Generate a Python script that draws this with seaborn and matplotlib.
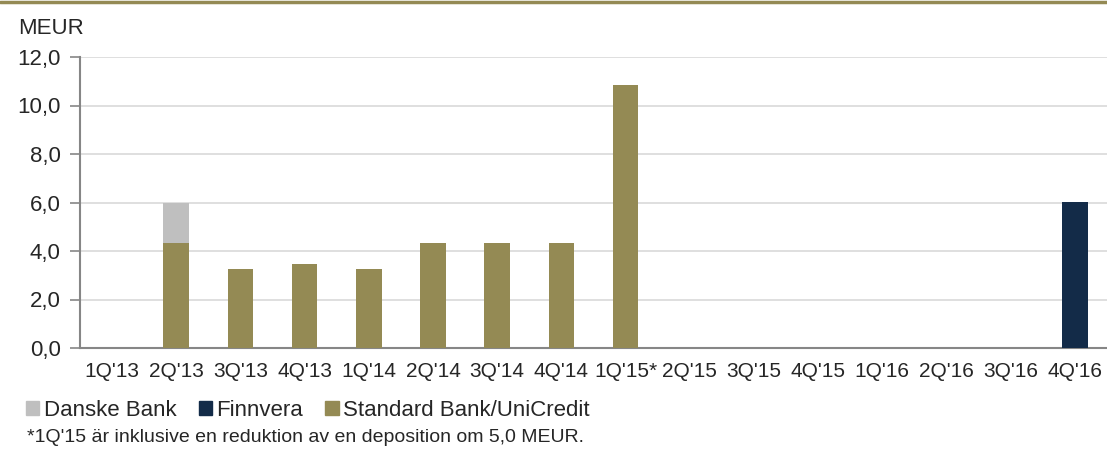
import matplotlib
matplotlib.use("Agg")
import matplotlib.pyplot as plt
from matplotlib.lines import Line2D
from matplotlib.patches import Patch
from matplotlib.ticker import FixedLocator
import numpy as np
import seaborn as sns

quarters = ["1Q'13", "2Q'13", "3Q'13", "4Q'13", "1Q'14", "2Q'14", "3Q'14", "4Q'14",
            "1Q'15*", "2Q'15", "3Q'15", "4Q'15", "1Q'16", "2Q'16", "3Q'16", "4Q'16"]
standard_bank = [0.0, 4.33, 3.25, 3.45, 3.25, 4.35, 4.35, 4.35,
                 10.85, 0.0, 0.0, 0.0, 0.0, 0.0, 0.0, 0.0]
danske_bank = [0.0, 1.67, 0.0, 0.0, 0.0, 0.0, 0.0, 0.0,
               0.0, 0.0, 0.0, 0.0, 0.0, 0.0, 0.0, 0.0]
finnvera = [0.0, 0.0, 0.0, 0.0, 0.0, 0.0, 0.0, 0.0,
            0.0, 0.0, 0.0, 0.0, 0.0, 0.0, 0.0, 6.02]
yticks = [0, 2, 4, 6, 8, 10, 12]

OLIVE = "#948A54"
GREY = "#BFBFBF"
NAVY = "#132B48"

sns.set_style("white")
plt.rcParams["font.family"] = ["Liberation Sans", "DejaVu Sans"]

fig = plt.figure(figsize=(11.07, 4.51), dpi=100)
ax = fig.add_axes([80 / 1107, 1 - 348 / 451, 1 - 80 / 1107, (348 - 57) / 451])

std = np.array(standard_bank)
dan = np.array(danske_bank)
fin = np.array(finnvera)

sns.barplot(x=quarters, y=std, color=OLIVE, width=0.4, saturation=1, ax=ax, zorder=3, linewidth=0)
sns.barplot(x=quarters, y=dan, bottom=std, color=GREY, width=0.4, saturation=1, ax=ax, zorder=3, linewidth=0)
sns.barplot(x=quarters, y=fin, bottom=std + dan, color=NAVY, width=0.4, saturation=1, ax=ax, zorder=3, linewidth=0)

ax.set_ylim(0, 12)
ax.set_xlim(-0.5, len(quarters) - 0.5)
ax.set_yticks(yticks)
ax.set_yticklabels([f"{v:.1f}".replace(".", ",") for v in yticks], fontsize=16)
ax.yaxis.grid(True, color="#D9D9D9", linewidth=1.2, zorder=0)
ax.set_axisbelow(True)

ax.set_xticks(range(len(quarters)))
ax.set_xticklabels(quarters, fontsize=15)
ax.tick_params(axis="x", which="major", length=0, pad=10)
ax.xaxis.set_minor_locator(FixedLocator(np.arange(-0.5, len(quarters), 1.0)))
ax.tick_params(axis="x", which="minor", direction="out", length=5, color="#868686", width=1.2)
ax.tick_params(axis="y", direction="out", length=7, color="#868686", width=1.2, pad=7, left=True)

for side in ["top", "right"]:
    ax.spines[side].set_visible(False)
for side in ["left", "bottom"]:
    ax.spines[side].set_color("#868686")
    ax.spines[side].set_linewidth(1.5)

ax.set_xlabel("")
ax.set_ylabel("")

fig.text(18 / 1107, 1 - 28 / 451, "MEUR", fontsize=16, va="center", ha="left")

handles = [Patch(color=GREY, label="Danske Bank"),
           Patch(color=NAVY, label="Finnvera"),
           Patch(color=OLIVE, label="Standard Bank/UniCredit")]
fig.legend(handles=handles, loc="center left", bbox_to_anchor=(26 / 1107, 1 - 410 / 451),
           ncol=3, frameon=False, fontsize=16, handlelength=0.6, handleheight=0.6,
           handletextpad=0.2, columnspacing=1.0, borderaxespad=0, borderpad=0)

fig.text(27 / 1107, 1 - 438 / 451,
         "*1Q'15 är inklusive en reduktion av en deposition om 5,0 MEUR.",
         fontsize=14, va="center", ha="left")

fig.add_artist(Line2D([0, 1], [1 - 1.5 / 451, 1 - 1.5 / 451], transform=fig.transFigure,
                      color=OLIVE, linewidth=2.5))

fig.savefig("out.png", dpi=100)
